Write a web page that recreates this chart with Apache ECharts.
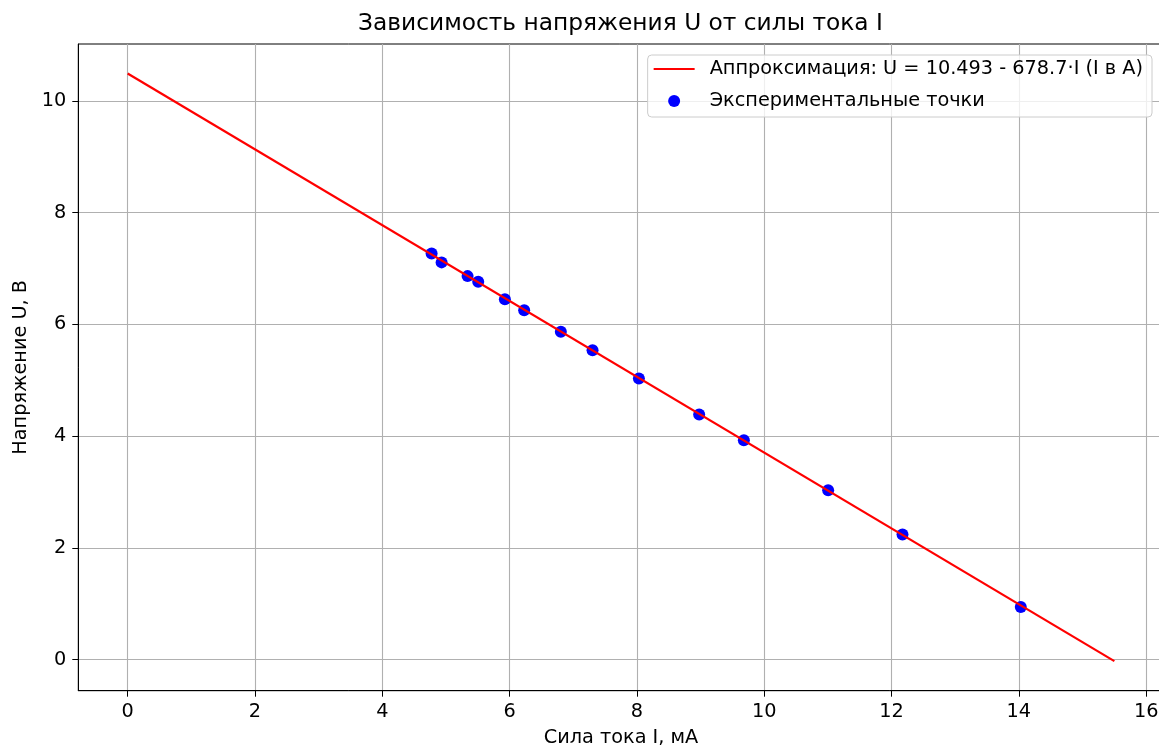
<!DOCTYPE html>
<html>
<head>
<meta charset="utf-8">
<script src="https://cdn.jsdelivr.net/npm/echarts@6/dist/echarts.min.js"></script>
<style>
html,body{margin:0;padding:0;background:#fff;}
#chart{width:1159px;height:749px;}
</style>
</head>
<body>
<div id="chart"></div>
<script>
// Experimental points (current in mA, voltage in V)
var currentMA = [4.775, 4.932, 5.340, 5.507, 5.926, 6.229, 6.805, 7.303, 8.031, 8.978, 9.680, 11.004, 12.172, 14.03];
var voltageV  = [7.272, 7.111, 6.865, 6.763, 6.453, 6.256, 5.868, 5.540, 5.033, 4.388, 3.928, 3.032, 2.239, 0.942];
// Approximation line endpoints
var fitX = [0, 15.5];
var fitY = [10.493, -0.027];
// Tick values
var xTicks = [0, 2, 4, 6, 8, 10, 12, 14, 16];
var yTicks = [0, 2, 4, 6, 8, 10];

var titleText = 'Зависимость напряжения U от силы тока I';
var xName = 'Сила тока I, мА';
var yName = 'Напряжение U, В';
var fitName = 'Аппроксимация: U = 10.493 - 678.7·I (I в A)';
var pointsName = 'Экспериментальные точки';

var FONT = 'DejaVu Sans';
var FS = 19.3;
var chart = echarts.init(document.getElementById('chart'), null, {renderer: 'canvas'});

function pairs(xs, ys) { return xs.map(function (x, i) { return [x, ys[i]]; }); }

chart.setOption({
  animation: false,
  backgroundColor: '#ffffff',
  textStyle: {fontFamily: FONT, color: '#000'},
  title: {
    text: titleText,
    left: 620.5,
    top: 12,
    padding: 0,
    textAlign: 'center',
    textStyle: {fontFamily: FONT, fontSize: 23.3, fontWeight: 'normal', color: '#000'}
  },
  legend: {
    orient: 'vertical',
    right: 7,
    top: 55,
    padding: [4, 9, 6, 5],
    itemGap: 12,
    itemWidth: 41,
    itemHeight: 12,
    backgroundColor: 'rgba(255,255,255,0.8)',
    borderColor: '#cccccc',
    borderWidth: 1,
    borderRadius: 4,
    textStyle: {fontFamily: FONT, fontSize: FS, color: '#000', lineHeight: 20, padding: [0, 0, 0, 10]},
    data: [
      {name: fitName, itemStyle: {opacity: 0}},
      {name: pointsName, icon: 'circle'}
    ]
  },
  grid: {
    left: 78.3,
    top: 44,
    right: -4.7,
    bottom: 58.3,
    containLabel: false,
    outerBoundsMode: 'none',
    show: true,
    borderColor: '#000',
    borderWidth: 1,
    backgroundColor: 'transparent'
  },
  xAxis: {
    type: 'value',
    min: -0.775,
    max: 16.275,
    name: xName,
    nameLocation: 'middle',
    nameGap: 38,
    nameTextStyle: {fontFamily: FONT, fontSize: FS, color: '#000'},
    axisLine: {show: true, onZero: false, lineStyle: {color: '#000', width: 1}},
    axisTick: {show: true, inside: false, length: 6, lineStyle: {color: '#000', width: 1}, customValues: xTicks},
    axisLabel: {show: true, margin: 12, fontFamily: FONT, fontSize: FS, color: '#000', customValues: xTicks},
    splitLine: {show: true, lineStyle: {color: '#b0b0b0', width: 1.1}}
  },
  yAxis: {
    type: 'value',
    min: -0.556,
    max: 11.02,
    name: yName,
    nameLocation: 'middle',
    nameGap: 48,
    nameTextStyle: {fontFamily: FONT, fontSize: FS, color: '#000'},
    axisLine: {show: true, onZero: false, lineStyle: {color: '#000', width: 1}},
    axisTick: {show: true, inside: false, length: 6, lineStyle: {color: '#000', width: 1}, customValues: yTicks},
    axisLabel: {show: true, margin: 12, fontFamily: FONT, fontSize: FS, color: '#000', customValues: yTicks},
    splitLine: {show: true, lineStyle: {color: '#b0b0b0', width: 1.1}}
  },
  series: [
    {
      name: fitName,
      type: 'line',
      data: pairs(fitX, fitY),
      symbol: 'none',
      showSymbol: false,
      lineStyle: {color: '#ff0000', width: 2.2},
      itemStyle: {color: '#ff0000'},
      z: 3
    },
    {
      name: pointsName,
      type: 'scatter',
      data: pairs(currentMA, voltageV),
      symbol: 'circle',
      symbolSize: 12,
      itemStyle: {color: '#0000ff', opacity: 1},
      z: 2
    }
  ]
});
</script>
</body>
</html>
